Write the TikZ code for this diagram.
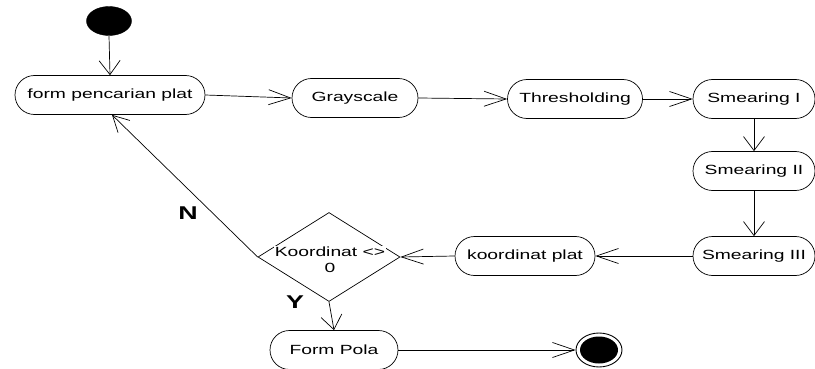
\documentclass[tikz,border=0pt]{standalone}
\usepackage{fontspec}
\setmainfont[FakeStretch=1.45]{Liberation Sans}
\usetikzlibrary{arrows.meta,shapes.misc,shapes.geometric}
\begin{document}
\begin{tikzpicture}[x=1pt,y=-1pt,
  act/.style={draw, rounded rectangle, minimum height=39pt, inner xsep=2pt, line width=0.7pt, font=\fontsize{13.3}{16}\selectfont},
  flow/.style={draw, line width=0.7pt},
  harr/.style={-{Straight Barb[length=22pt,width=15pt,line width=0.7pt]}},
  varr/.style={-{Straight Barb[length=14pt,width=21pt,line width=0.7pt]}},
  darr/.style={-{Straight Barb[length=16pt,width=17pt,line width=0.7pt]}},
  lbl/.style={font=\fontsize{18.5}{22}\selectfont\bfseries, inner sep=0pt}
]
\useasboundingbox (0,0) rectangle (815,369);
\node[draw, ellipse, fill=black, minimum width=45pt, minimum height=29pt, inner sep=0pt] (start) at (109,21) {};
\node[act, minimum width=194pt] (form) at (110,95) {form pencarian plat};
\node[act, minimum width=130pt] (gray) at (355,98) {Grayscale};
\node[act, minimum width=139pt] (thr) at (575,99) {Thresholding};
\node[act, minimum width=126pt] (s1) at (754,99) {Smearing I};
\node[act, minimum width=126pt] (s2) at (754,171) {Smearing II};
\node[act, minimum width=126pt] (s3) at (754,256) {Smearing III};
\node[act, minimum width=144pt] (kp) at (525,256) {koordinat plat};
\node[draw, diamond, aspect=1.6, minimum width=142pt, minimum height=89pt, inner sep=0pt, line width=0.7pt] (dec) at (329,257) {};
\node[align=center, inner sep=0pt, font=\fontsize{13.3}{16}\selectfont] (dtext) at (330,259) {\setlength{\fboxsep}{1pt}\colorbox{white}{Koordinat <>}\\0};
\node[act, minimum width=132pt] (pola) at (334,350) {Form Pola};
\node[draw, ellipse, minimum width=46pt, minimum height=34pt, inner sep=0pt, line width=0.9pt,
  path picture={\fill (path picture bounding box.center) ellipse (19pt and 13.5pt);}] (end) at (599,350) {};
\node[lbl] (nlab) at (188,213) {N};
\node[lbl] (ylab) at (295,302) {Y};

\draw[flow,varr] (start.south) -- (form.north);
\draw[flow,harr] (form.east) -- (gray.west);
\draw[flow,harr] (gray.east) -- (thr.west);
\draw[flow,harr] (thr.east) -- (s1.west);
\draw[flow,varr] (s1.south) -- (s2.north);
\draw[flow,varr] (s2.south) -- (s3.north);
\draw[flow,harr] (s3.west) -- (kp.east);
\draw[flow,harr] (kp.west) -- (dec.east);
\draw[flow,varr] (dec.south) -- (pola.north);
\draw[flow,darr] (dec.west) -- ([xshift=2pt]form.south);
\draw[flow,harr] (pola.east) -- (end.west);
\end{tikzpicture}
\end{document}
